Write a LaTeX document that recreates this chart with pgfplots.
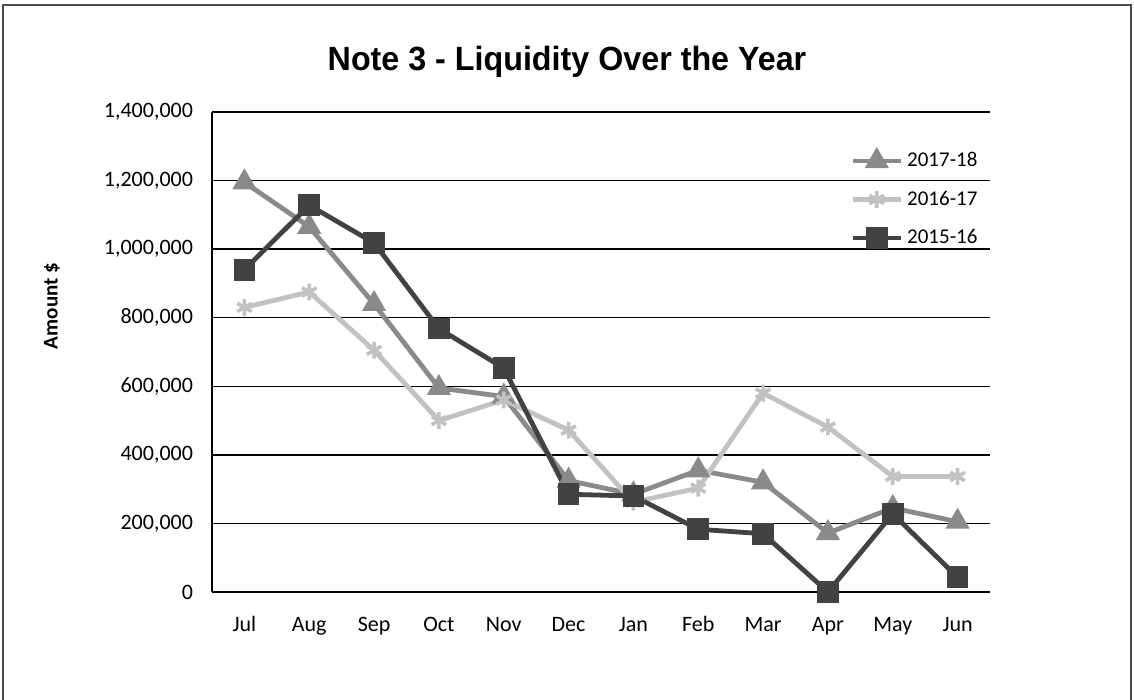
\documentclass[border=0pt]{standalone}
\usepackage{fontspec}
\setmainfont{Carlito}
\newfontfamily\titlefont{Liberation Sans}
\usepackage{graphicx}
\usepackage{pgfplots}
\pgfplotsset{compat=1.18}
\definecolor{cA}{HTML}{8A8A8A}
\definecolor{cB}{HTML}{C2C2C2}
\definecolor{cC}{HTML}{424242}
\begin{document}
\begin{tikzpicture}
\path[use as bounding box] (0,0) rectangle (567pt,350pt);
\draw[line width=0.6pt, black!70] (1.5pt,0pt) -- (1.5pt,347.5pt) -- (565.5pt,347.5pt) -- (565.5pt,0pt);
\begin{axis}[
  at={(106pt,54pt)}, anchor=south west,
  scale only axis, width=389pt, height=240pt,
  xmin=-0.5, xmax=11.5, ymin=0, ymax=1400000,
  xtick={0,...,11},
  xticklabels={Jul,Aug,Sep,Oct,Nov,Dec,Jan,Feb,Mar,Apr,May,Jun},
  ytick={0,200000,400000,600000,800000,1000000,1200000,1400000},
  scaled y ticks=false,
  yticklabel style={xshift=-6pt, /pgf/number format/.cd, fixed, 1000 sep={,}, assume math mode=true},
  xticklabel style={yshift=-8pt, text height=8pt, text depth=2pt},
  tick label style={font=\fontsize{11}{13}\selectfont},
  major tick length=0pt,
  ymajorgrids, grid style={black, line width=0.7pt},
  axis x line=bottom, axis y line=left,
  axis line style={black, line width=0.7pt, -},
  legend style={draw=none, fill=none, at={(0.82,0.925)}, anchor=north west, inner sep=0pt,
    font=\fontsize{10.5}{13}\selectfont, row sep=6.6pt},
  legend cell align=left,
  legend image code/.code={\draw[mark repeat=2,mark phase=2,#1] plot coordinates {(0pt,0pt) (12pt,0pt) (24pt,0pt)};},
]
\addplot[cA, line width=2.4pt, mark=triangle*, mark size=4.6pt, mark options={solid}] coordinates {
(0,1195000) (1,1065000) (2,840000) (3,595000) (4,570000) (5,325000) (6,285000) (7,355000) (8,320000) (9,172000) (10,245000) (11,205000)};
\addlegendentry{2017-18}
\addplot[cB, line width=2.4pt, mark=asterisk, mark size=4.2pt, mark options={solid, line width=1.8pt}] coordinates {
(0,830000) (1,875000) (2,705000) (3,500000) (4,560000) (5,472000) (6,262000) (7,303000) (8,580000) (9,481000) (10,337000) (11,337000)};
\addlegendentry{2016-17}
\addplot[cC, line width=2.4pt, mark=square*, mark size=4.2pt, mark options={solid}] coordinates {
(0,940000) (1,1128000) (2,1018000) (3,768000) (4,653000) (5,285000) (6,280000) (7,183000) (8,170000) (9,0) (10,228000) (11,43000)};
\addlegendentry{2015-16}
\end{axis}
\node[font=\titlefont\bfseries\fontsize{16.8}{20}\selectfont, anchor=base] at (283.5pt,314.5pt) {\scalebox{0.96}[1]{Note 3 - Liquidity Over the Year}};
\node[rotate=90, font=\bfseries\fontsize{10.5}{12}\selectfont] at (26pt,197pt) {Amount \$};
\end{tikzpicture}
\end{document}
